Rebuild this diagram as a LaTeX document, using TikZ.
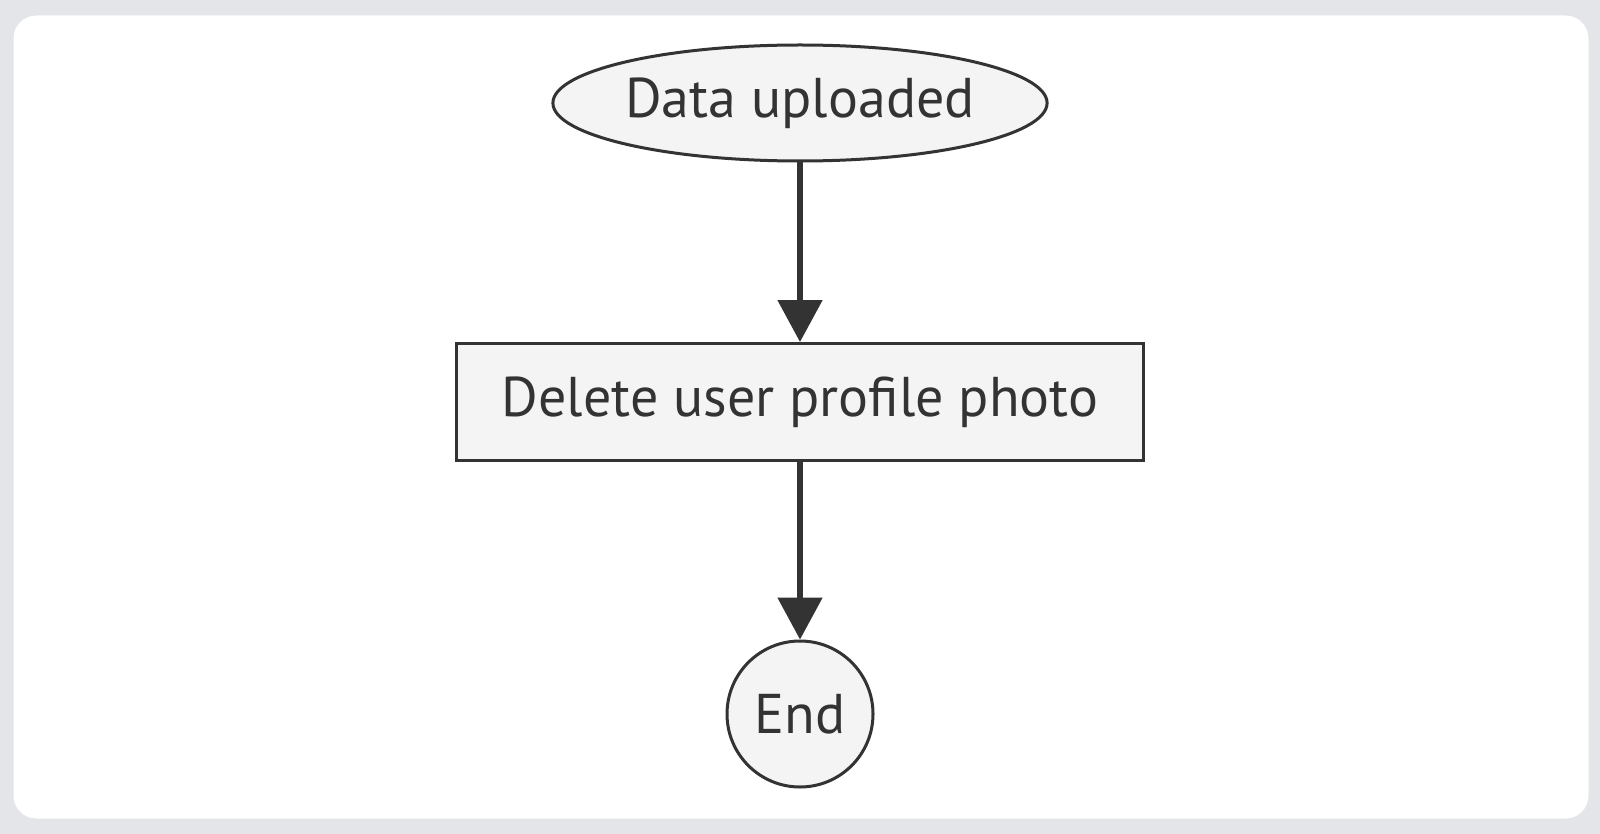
\documentclass[tikz,border=0pt]{standalone}
\usepackage{fontspec}
\setmainfont{PT Sans}
\usetikzlibrary{arrows.meta,positioning,shapes.geometric}
\definecolor{ink}{HTML}{333333}
\definecolor{boxfill}{HTML}{F4F4F4}
\definecolor{frame}{HTML}{E3E5E8}
\tikzset{
  shapebox/.style={draw=ink,fill=boxfill,line width=1.5pt,text=ink,font=\fontsize{28}{32}\selectfont},
  flow/.style={draw=ink,line width=2.6pt,-{Triangle[length=21pt,width=22pt]}}
}
\begin{document}
\begin{tikzpicture}[x=0.5pt,y=-0.5pt]
% background and card
\fill[frame] (0,0) rectangle (1600,834);
\draw[frame,fill=white,line width=1.5pt,rounded corners=12pt] (12,14) rectangle (1590,820);

\node[shapebox,ellipse,minimum width=223pt,minimum height=58pt,inner sep=0pt] (upload) at (800,103) {Data uploaded};
\node[shapebox,rectangle,minimum width=343.5pt,minimum height=58.5pt] (delete) at (800,402) {Delete user profile photo};
\node[shapebox,circle,minimum size=73pt,inner sep=0pt] (done) at (800,714) {End};

\draw[flow] (upload) -- (delete);
\draw[flow] (delete) -- (done);
\end{tikzpicture}
\end{document}
